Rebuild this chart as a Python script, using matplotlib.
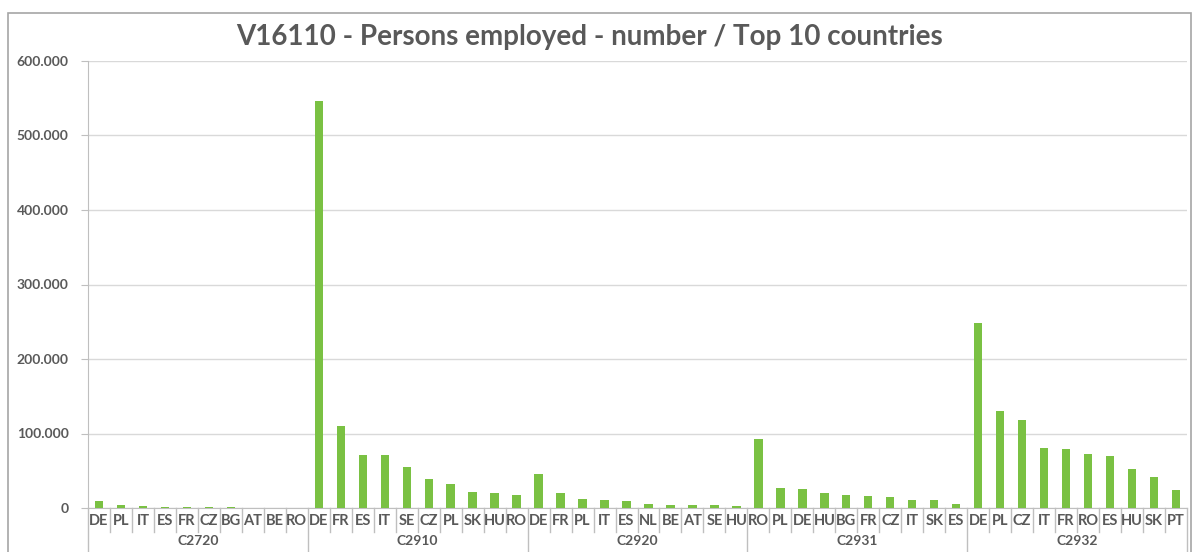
import numpy as np
import matplotlib
matplotlib.use("Agg")
import matplotlib.pyplot as plt
import matplotlib.transforms as mtransforms
from matplotlib.patches import Rectangle

plt.rcParams['font.family'] = ['Lato', 'DejaVu Sans']

# ---- data ----
groups = ['C2720', 'C2910', 'C2920', 'C2931', 'C2932']
countries = [
    ['DE', 'PL', 'IT', 'ES', 'FR', 'CZ', 'BG', 'AT', 'BE', 'RO'],
    ['DE', 'FR', 'ES', 'IT', 'SE', 'CZ', 'PL', 'SK', 'HU', 'RO'],
    ['DE', 'FR', 'PL', 'IT', 'ES', 'NL', 'BE', 'AT', 'SE', 'HU'],
    ['RO', 'PL', 'DE', 'HU', 'BG', 'FR', 'CZ', 'IT', 'SK', 'ES'],
    ['DE', 'PL', 'CZ', 'IT', 'FR', 'RO', 'ES', 'HU', 'SK', 'PT'],
]
c2720 = [9800, 4000, 2700, 1700, 1700, 1300, 1200, 600, 500, 400]
c2910 = [546000, 110000, 70700, 70700, 54600, 38900, 31800, 21500, 19700, 17900]
c2920 = [45000, 20600, 11600, 10300, 9400, 5800, 4000, 3600, 3600, 2700]
c2931 = [92600, 26800, 25000, 20100, 17900, 16100, 14800, 11200, 10300, 5800]
c2932 = [248000, 129800, 117700, 80100, 78800, 72000, 69400, 52300, 42000, 24600]
values = c2720 + c2910 + c2920 + c2931 + c2932
labels = [c for grp in countries for c in grp]

W, H = 1197, 552
fig = plt.figure(figsize=(W / 100, H / 100), dpi=100)
ax = fig.add_axes([88 / W, 1 - 508 / H, (1187 - 88) / W, (508 - 61) / H])

grey = '#595959'
x = np.arange(len(values))
ax.bar(x, values, width=0.38, color='#7AC143', zorder=3)

ax.set_xlim(-0.5, len(values) - 0.5)
ax.set_ylim(0, 600000)
yt = np.arange(0, 600001, 100000)
ax.set_yticks(yt)
ax.set_yticklabels([f"{int(v):,}".replace(",", ".") for v in yt],
                   color=grey, fontsize=10, fontweight='bold')
ax.tick_params(axis='y', length=5, color='#BFBFBF', pad=9)
ax.set_xticks([])
ax.grid(axis='y', color='#D9D9D9', linewidth=1, zorder=0)
for s in ['top', 'right']:
    ax.spines[s].set_visible(False)
ax.spines['left'].set_color('#BFBFBF')
ax.spines['bottom'].set_color('#BFBFBF')

# multi-level category axis
trans = mtransforms.blended_transform_factory(ax.transData, ax.transAxes)
ah = 508 - 61
for i, lab in enumerate(labels):
    ax.text(i, -13 / ah, lab, transform=trans, ha='center', va='center',
            fontsize=10.5, fontweight='bold', color=grey)
for i in range(len(values) + 1):
    xb = i - 0.5
    if i % 10 == 0:
        ax.plot([xb, xb], [0, -60 / ah], transform=trans, color='#BFBFBF',
                linewidth=1, clip_on=False)
    else:
        ax.plot([xb, xb], [0, -24 / ah], transform=trans, color='#BFBFBF',
                linewidth=1, clip_on=False)
for g, name in enumerate(groups):
    ax.text(g * 10 + 4.5, -33 / ah, name, transform=trans, ha='center',
            va='center', fontsize=10, fontweight='bold', color=grey)

# title and outer frame
fig.text(590 / W, 1 - 37 / H, 'V16110 - Persons employed - number / Top 10 countries',
         ha='center', va='center', fontsize=20, fontweight='bold', color=grey)
fig.patches.append(Rectangle((8 / W, -0.1), (1191 - 8) / W, 1.1 - 13 / H,
                             transform=fig.transFigure, fill=False,
                             edgecolor='#A6A6A6', linewidth=1.2))

fig.savefig('out.png', dpi=100)
